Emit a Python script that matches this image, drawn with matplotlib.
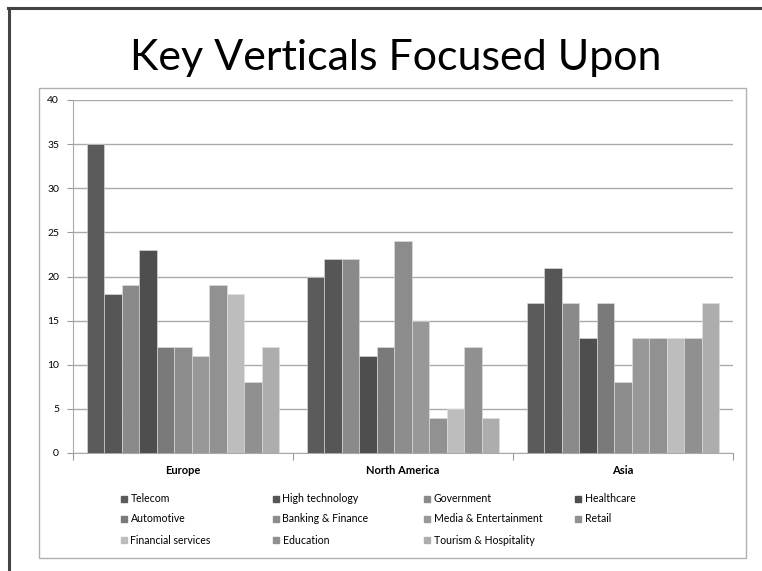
import numpy as np
import matplotlib
matplotlib.use("Agg")
import matplotlib.pyplot as plt
from matplotlib.patches import Rectangle
from matplotlib.lines import Line2D

plt.rcParams['font.family'] = ['Lato', 'DejaVu Sans']

regions = ["Europe", "North America", "Asia"]
verticals = ["Telecom", "High technology", "Government", "Healthcare",
             "Automotive", "Banking & Finance", "Media & Entertainment", "Retail",
             "Financial services", "Education", "Tourism & Hospitality"]
# one list per region, in the order of verticals
europe = [35, 18, 19, 23, 12, 12, 11, 19, 18, 8, 12]
north_america = [20, 22, 22, 11, 12, 24, 15, 4, 5, 12, 4]
asia = [17, 21, 17, 13, 17, 8, 13, 13, 13, 13, 17]
colors = ["#5b5b5b", "#565656", "#8a8a8a", "#4e4e4e", "#7a7a7a", "#8c8c8c",
          "#989898", "#919191", "#bdbdbd", "#909090", "#adadad"]

values = np.array([europe, north_america, asia])

W, H = 762, 571
fig = plt.figure(figsize=(W / 100, H / 100), dpi=100)

def fx(px):
    return px / W

def fy(py):
    return 1 - py / H

# slide frame and chart box
fig.add_artist(Line2D([fx(9), fx(9)], [fy(8), 0], color="#444444", lw=2.2))
fig.add_artist(Line2D([fx(8), 1], [fy(8), fy(8)], color="#444444", lw=2.2))
fig.add_artist(Rectangle((fx(39), fy(558)), fx(746) - fx(39), fy(88) - fy(558),
                         transform=fig.transFigure, fill=False,
                         edgecolor="#b0b0b0", lw=1.0))

fig.text(fx(396), fy(58), "Key Verticals Focused Upon", ha="center", va="center",
         fontsize=31, color="black")

ax = fig.add_axes([fx(73), fy(453), fx(733) - fx(73), fy(100) - fy(453)])

n = len(verticals)
span = 0.877
w = span / n
centers = np.arange(len(regions)) + 0.5
for i in range(n):
    xs = centers - span / 2 + w * (i + 0.5)
    ax.bar(xs, values[:, i], width=w, color=colors[i], edgecolor="#e0e0e0",
           linewidth=0.4, zorder=3)

ax.set_xlim(0, len(regions))
ax.set_ylim(0, 40)
ax.set_yticks(np.arange(0, 41, 5))
ax.yaxis.grid(True, color="#aaaaaa", lw=1.0, zorder=0)
ax.tick_params(axis="y", labelsize=7.5, length=4, color="#999999", pad=6)

ax.set_xticks(np.arange(0, len(regions) + 1))
ax.set_xticklabels([])
ax.tick_params(axis="x", which="major", length=5, color="#999999")
ax.set_xticks(centers, minor=True)
ax.set_xticklabels(regions, minor=True, fontweight="bold", fontsize=8)
ax.tick_params(axis="x", which="minor", length=0, pad=9)

for s in ["top", "right"]:
    ax.spines[s].set_visible(False)
for s in ["left", "bottom"]:
    ax.spines[s].set_color("#aaaaaa")

# legend, row by row in four columns
col_x = [124, 276, 427, 578]
row_y = [499, 519, 540]
for k, name in enumerate(verticals):
    x0 = col_x[k % 4]
    y0 = row_y[k // 4]
    fig.add_artist(Rectangle((fx(x0 - 3), fy(y0 + 3)), fx(6), 6 / H,
                             transform=fig.transFigure, color=colors[k]))
    fig.text(fx(x0 + 6.5), fy(y0), name, ha="left", va="center", fontsize=7.6)

fig.savefig("out.png", dpi=100)
